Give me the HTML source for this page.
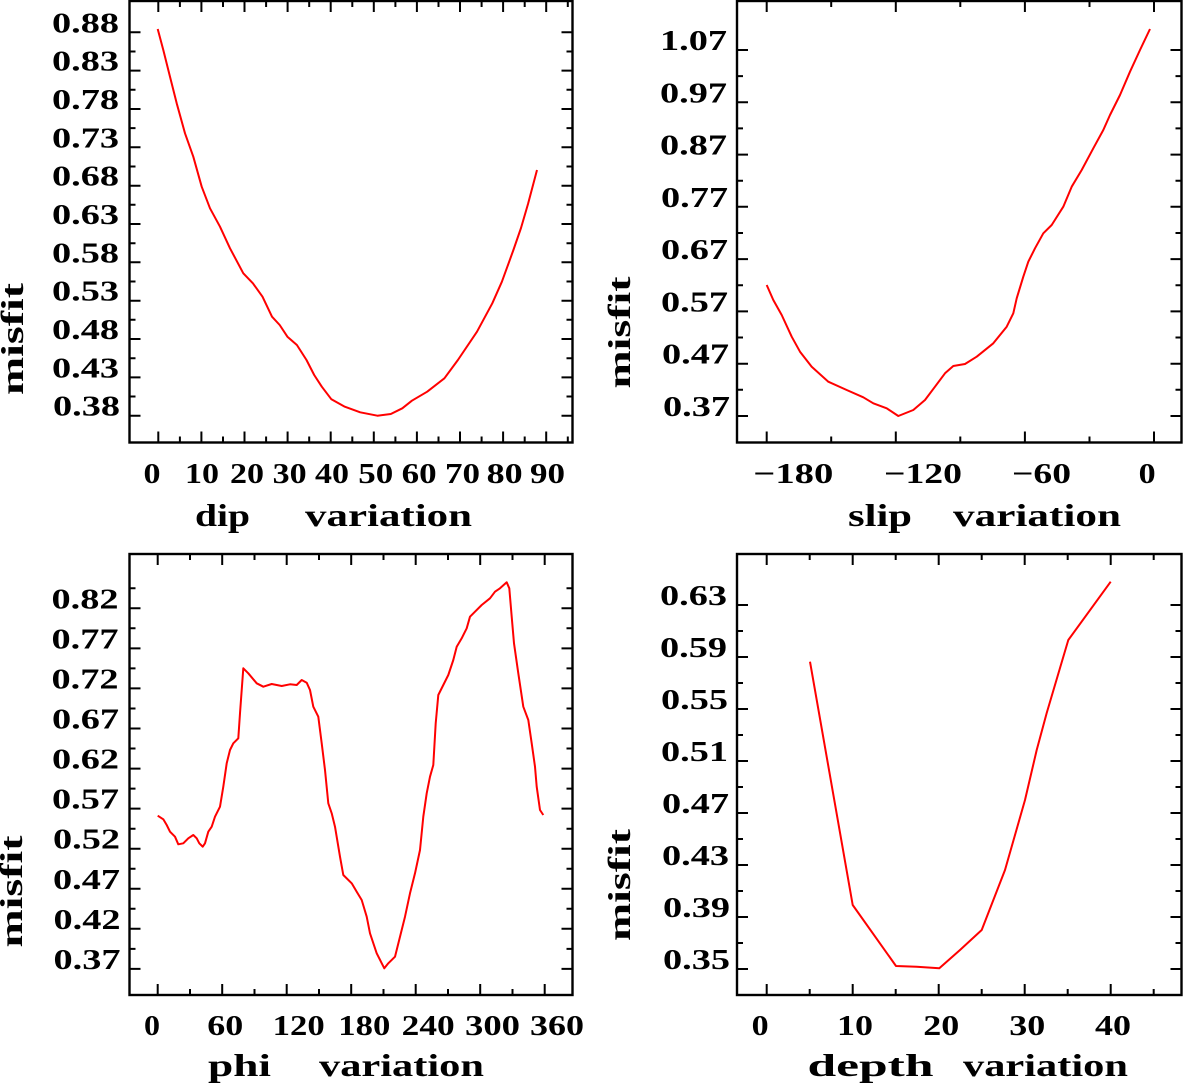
<!DOCTYPE html>
<html>
<head>
<meta charset="utf-8">
<style>
html,body{margin:0;padding:0;background:#fff;}
svg{display:block;}
text{font-family:"Liberation Serif","DejaVu Serif",serif;font-weight:bold;fill:#000;}
.yl{font-size:29px;text-anchor:end;}
.xl{font-size:29px;text-anchor:start;}
.tt{font-size:32px;}
</style>
</head>
<body>
<svg width="1183" height="1086" viewBox="0 0 1183 1086" xmlns="http://www.w3.org/2000/svg">
<rect x="0" y="0" width="1183" height="1086" fill="#fff"/>

<!-- ================= TOP-LEFT: dip ================= -->
<rect x="129.5" y="1" width="443" height="441.5" fill="none" stroke="#000" stroke-width="2.4"/>
<path fill="none" stroke="#000" stroke-width="2" d="
M158.3 442.5v-11 M179.9 442.5v-6 M201.4 442.5v-11 M223 442.5v-6 M244.5 442.5v-11 M266.1 442.5v-6 M287.6 442.5v-11 M309.2 442.5v-6 M330.7 442.5v-11 M352.3 442.5v-6 M373.8 442.5v-11 M395.4 442.5v-6 M416.9 442.5v-11 M438.5 442.5v-6 M460 442.5v-11 M481.6 442.5v-6 M503.1 442.5v-11 M524.7 442.5v-6 M546.2 442.5v-11 M567.8 442.5v-6
M158.3 1v11 M179.9 1v6 M201.4 1v11 M223 1v6 M244.5 1v11 M266.1 1v6 M287.6 1v11 M309.2 1v6 M330.7 1v11 M352.3 1v6 M373.8 1v11 M395.4 1v6 M416.9 1v11 M438.5 1v6 M460 1v11 M481.6 1v6 M503.1 1v11 M524.7 1v6 M546.2 1v11 M567.8 1v6
M129.5 32.3h11 M129.5 51.5h6 M129.5 70.6h11 M129.5 89.8h6 M129.5 109h11 M129.5 128.1h6 M129.5 147.3h11 M129.5 166.5h6 M129.5 185.7h11 M129.5 204.8h6 M129.5 224h11 M129.5 243.2h6 M129.5 262.3h11 M129.5 281.5h6 M129.5 300.7h11 M129.5 319.8h6 M129.5 339h11 M129.5 358.2h6 M129.5 377.4h11 M129.5 396.5h6 M129.5 415.7h11
M572.5 32.3h-11 M572.5 51.5h-6 M572.5 70.6h-11 M572.5 89.8h-6 M572.5 109h-11 M572.5 128.1h-6 M572.5 147.3h-11 M572.5 166.5h-6 M572.5 185.7h-11 M572.5 204.8h-6 M572.5 224h-11 M572.5 243.2h-6 M572.5 262.3h-11 M572.5 281.5h-6 M572.5 300.7h-11 M572.5 319.8h-6 M572.5 339h-11 M572.5 358.2h-6 M572.5 377.4h-11 M572.5 396.5h-6 M572.5 415.7h-11"/>
<polyline fill="none" stroke="#ff0000" stroke-width="2" stroke-linejoin="round" points="157.7,29 163.3,50 170,76.7 176.7,103.3 185,133.3 193.3,156.7 201.7,186.7 210,208.3 220,226.7 230,248.3 243.3,273.3 252.9,283.3 262.5,296.7 272,316.7 279.7,325 287.4,336.7 296.9,345 306.5,360 314.2,375 321.8,386.7 331.4,399.3 344.8,406.7 360.2,412.3 377.4,415.7 390.8,414 402.3,408.3 411.9,400.7 427.2,391.7 444.4,378.3 457.9,360 477,331.7 492.3,303.3 501.9,281.7 513.4,250 521,228 528,204 537,170"/>
<text class="yl" x="119" y="32.3" textLength="67" lengthAdjust="spacingAndGlyphs">0.88</text>
<text class="yl" x="119" y="70.6" textLength="67" lengthAdjust="spacingAndGlyphs">0.83</text>
<text class="yl" x="119" y="109" textLength="67" lengthAdjust="spacingAndGlyphs">0.78</text>
<text class="yl" x="119" y="147.3" textLength="67" lengthAdjust="spacingAndGlyphs">0.73</text>
<text class="yl" x="119" y="185.7" textLength="67" lengthAdjust="spacingAndGlyphs">0.68</text>
<text class="yl" x="119" y="224" textLength="67" lengthAdjust="spacingAndGlyphs">0.63</text>
<text class="yl" x="119" y="262.3" textLength="67" lengthAdjust="spacingAndGlyphs">0.58</text>
<text class="yl" x="119" y="300.7" textLength="67" lengthAdjust="spacingAndGlyphs">0.53</text>
<text class="yl" x="119" y="339" textLength="67" lengthAdjust="spacingAndGlyphs">0.48</text>
<text class="yl" x="119" y="377.4" textLength="67" lengthAdjust="spacingAndGlyphs">0.43</text>
<text class="yl" x="120" y="415.7" textLength="67" lengthAdjust="spacingAndGlyphs">0.38</text>
<text class="xl" x="143.5" y="483" textLength="17" lengthAdjust="spacingAndGlyphs">0</text>
<text class="xl" x="185" y="483" textLength="34" lengthAdjust="spacingAndGlyphs">10</text>
<text class="xl" x="230" y="483" textLength="34" lengthAdjust="spacingAndGlyphs">20</text>
<text class="xl" x="272.7" y="483" textLength="34" lengthAdjust="spacingAndGlyphs">30</text>
<text class="xl" x="315" y="483" textLength="34" lengthAdjust="spacingAndGlyphs">40</text>
<text class="xl" x="358.3" y="483" textLength="35" lengthAdjust="spacingAndGlyphs">50</text>
<text class="xl" x="401.7" y="483" textLength="35" lengthAdjust="spacingAndGlyphs">60</text>
<text class="xl" x="445" y="483" textLength="35" lengthAdjust="spacingAndGlyphs">70</text>
<text class="xl" x="486.7" y="483" textLength="36" lengthAdjust="spacingAndGlyphs">80</text>
<text class="xl" x="530" y="483" textLength="35" lengthAdjust="spacingAndGlyphs">90</text>
<text class="tt" x="195" y="526" textLength="55" lengthAdjust="spacingAndGlyphs">dip</text>
<text class="tt" x="305" y="526" textLength="167" lengthAdjust="spacingAndGlyphs">variation</text>
<text class="tt" transform="translate(23,339) rotate(-90)" text-anchor="middle" textLength="112" lengthAdjust="spacingAndGlyphs">misfit</text>

<!-- ================= TOP-RIGHT: slip ================= -->
<rect x="737" y="1" width="444.5" height="441.5" fill="none" stroke="#000" stroke-width="2.4"/>
<path fill="none" stroke="#000" stroke-width="2" d="
M766.7 442.5v-11 M831.2 442.5v-6 M895.8 442.5v-11 M960.3 442.5v-6 M1024.9 442.5v-11 M1089.5 442.5v-6 M1154 442.5v-11
M766.7 1v11 M831.2 1v6 M895.8 1v11 M960.3 1v6 M1024.9 1v11 M1089.5 1v6 M1154 1v11
M737 50h11 M737 76.1h6 M737 102.3h11 M737 128.4h6 M737 154.6h11 M737 180.7h6 M737 206.8h11 M737 233h6 M737 259.1h11 M737 285.3h6 M737 311.4h11 M737 337.5h6 M737 363.7h11 M737 389.8h6 M737 416h11
M1181.5 50h-11 M1181.5 76.1h-6 M1181.5 102.3h-11 M1181.5 128.4h-6 M1181.5 154.6h-11 M1181.5 180.7h-6 M1181.5 206.8h-11 M1181.5 233h-6 M1181.5 259.1h-11 M1181.5 285.3h-6 M1181.5 311.4h-11 M1181.5 337.5h-6 M1181.5 363.7h-11 M1181.5 389.8h-6 M1181.5 416h-11"/>
<polyline fill="none" stroke="#ff0000" stroke-width="2" stroke-linejoin="round" points="766.7,285 773.3,300 781.7,315 791.7,336.7 800,351.7 811.7,366.7 828.3,381.7 846.7,390 863.3,397.3 873.3,403.3 886.7,408.3 898.3,416 913.3,410 925,400 935,386.7 945,373.3 953.3,366 965,364 976.7,356.7 993.3,343.3 1006.7,326.7 1013.3,313.3 1016.7,298.3 1023.3,276.7 1028.3,261.7 1035,248.3 1043.3,233.3 1051.7,225 1063.3,206.7 1071.7,186.7 1081.7,170 1093.3,148.3 1103.3,130 1110,115 1120,95 1130,71.7 1140,50 1150,29"/>
<text class="yl" x="727" y="50" textLength="67" lengthAdjust="spacingAndGlyphs">1.07</text>
<text class="yl" x="727" y="102.3" textLength="67" lengthAdjust="spacingAndGlyphs">0.97</text>
<text class="yl" x="727" y="154.6" textLength="67" lengthAdjust="spacingAndGlyphs">0.87</text>
<text class="yl" x="728" y="206.8" textLength="67" lengthAdjust="spacingAndGlyphs">0.77</text>
<text class="yl" x="728" y="259.1" textLength="67" lengthAdjust="spacingAndGlyphs">0.67</text>
<text class="yl" x="728" y="311.4" textLength="67" lengthAdjust="spacingAndGlyphs">0.57</text>
<text class="yl" x="729" y="363.7" textLength="67" lengthAdjust="spacingAndGlyphs">0.47</text>
<text class="yl" x="730" y="416" textLength="67" lengthAdjust="spacingAndGlyphs">0.37</text>
<text class="xl" x="753.3" y="483" textLength="80" lengthAdjust="spacingAndGlyphs">−180</text>
<text class="xl" x="884" y="483" textLength="78" lengthAdjust="spacingAndGlyphs">−120</text>
<text class="xl" x="1012" y="483" textLength="59" lengthAdjust="spacingAndGlyphs">−60</text>
<text class="xl" x="1138.6" y="483" textLength="17" lengthAdjust="spacingAndGlyphs">0</text>
<text class="tt" x="848" y="526" textLength="64" lengthAdjust="spacingAndGlyphs">slip</text>
<text class="tt" x="953" y="526" textLength="168" lengthAdjust="spacingAndGlyphs">variation</text>
<text class="tt" transform="translate(630,332.5) rotate(-90)" text-anchor="middle" textLength="112" lengthAdjust="spacingAndGlyphs">misfit</text>

<!-- ================= BOTTOM-LEFT: phi ================= -->
<rect x="129.5" y="554" width="443" height="441" fill="none" stroke="#000" stroke-width="2.4"/>
<path fill="none" stroke="#000" stroke-width="2" d="
M157.7 995v-11 M190 995v-6 M222.2 995v-11 M254.5 995v-6 M286.7 995v-11 M319 995v-6 M351.2 995v-11 M383.5 995v-6 M415.7 995v-11 M448 995v-6 M480.2 995v-11 M512.5 995v-6 M544.7 995v-11
M157.7 554v11 M190 554v6 M222.2 554v11 M254.5 554v6 M286.7 554v11 M319 554v6 M351.2 554v11 M383.5 554v6 M415.7 554v11 M448 554v6 M480.2 554v11 M512.5 554v6 M544.7 554v11
M129.5 588.3h6 M129.5 608.3h11 M129.5 628.3h6 M129.5 648.4h11 M129.5 668.4h6 M129.5 688.4h11 M129.5 708.5h6 M129.5 728.5h11 M129.5 748.5h6 M129.5 768.6h11 M129.5 788.6h6 M129.5 808.6h11 M129.5 828.7h6 M129.5 848.7h11 M129.5 868.7h6 M129.5 888.8h11 M129.5 908.8h6 M129.5 928.8h11 M129.5 948.9h6 M129.5 968.9h11
M572.5 588.3h-6 M572.5 608.3h-11 M572.5 628.3h-6 M572.5 648.4h-11 M572.5 668.4h-6 M572.5 688.4h-11 M572.5 708.5h-6 M572.5 728.5h-11 M572.5 748.5h-6 M572.5 768.6h-11 M572.5 788.6h-6 M572.5 808.6h-11 M572.5 828.7h-6 M572.5 848.7h-11 M572.5 868.7h-6 M572.5 888.8h-11 M572.5 908.8h-6 M572.5 928.8h-11 M572.5 948.9h-6 M572.5 968.9h-11"/>
<polyline fill="none" stroke="#ff0000" stroke-width="2" stroke-linejoin="round" points="157.7,815.7 163.3,819.3 166.7,825 170,831.7 175,836.7 178.3,844.3 183.3,843.3 188.3,838.3 193.3,835 196.7,838.3 199.3,843.3 202.7,846.7 205,843.3 208.3,831.7 211.7,826.7 215,816.7 220,806.7 223.3,786.7 226.7,763.3 230,750 233.3,743.3 238.3,738.3 240,713.3 243.3,668.3 248.3,673.3 256.7,683.3 263.3,686.7 271.7,684 281.7,686 290,684.3 296.7,685 301.7,680 306.7,682.7 310,690 313.3,706.7 318.3,716.7 321.7,743.3 325,770 328.3,803.3 331.7,813.3 335,826.7 340,856.7 343.3,875 351.7,883.3 356.7,891.7 361.7,900 366.7,916.7 370,933.3 376.7,953.3 384.3,968.3 388.3,963.3 395,956.7 400,936.7 405,916.7 410,893.3 415,873.3 420,850 423.3,816.7 426.7,793.3 430,776.7 433.3,765 435.7,723.3 438.3,695 443.3,685 448.3,675 453.3,660 456.7,646.7 461.7,638.3 466.7,628.3 470,616.7 475,611.7 481.7,605 490,598.3 495,591.7 500,588.3 506.7,582.3 509.3,588.3 511.7,616.7 514,643.3 518.3,673.3 523.3,706.7 528.3,720 531.7,743.3 535,766.7 536.7,786.7 540,810 543.3,815"/>
<text class="yl" x="118.5" y="608.3" textLength="67" lengthAdjust="spacingAndGlyphs">0.82</text>
<text class="yl" x="118.5" y="648.4" textLength="67" lengthAdjust="spacingAndGlyphs">0.77</text>
<text class="yl" x="118.5" y="688.4" textLength="67" lengthAdjust="spacingAndGlyphs">0.72</text>
<text class="yl" x="119" y="728.5" textLength="67" lengthAdjust="spacingAndGlyphs">0.67</text>
<text class="yl" x="119" y="768.6" textLength="67" lengthAdjust="spacingAndGlyphs">0.62</text>
<text class="yl" x="119" y="808.6" textLength="67" lengthAdjust="spacingAndGlyphs">0.57</text>
<text class="yl" x="120" y="848.7" textLength="67" lengthAdjust="spacingAndGlyphs">0.52</text>
<text class="yl" x="120" y="888.8" textLength="67" lengthAdjust="spacingAndGlyphs">0.47</text>
<text class="yl" x="120.5" y="928.8" textLength="67" lengthAdjust="spacingAndGlyphs">0.42</text>
<text class="yl" x="120.5" y="968.9" textLength="67" lengthAdjust="spacingAndGlyphs">0.37</text>
<text class="xl" x="144" y="1035" textLength="16" lengthAdjust="spacingAndGlyphs">0</text>
<text class="xl" x="207.3" y="1035" textLength="36" lengthAdjust="spacingAndGlyphs">60</text>
<text class="xl" x="272.7" y="1035" textLength="52" lengthAdjust="spacingAndGlyphs">120</text>
<text class="xl" x="338.3" y="1035" textLength="52" lengthAdjust="spacingAndGlyphs">180</text>
<text class="xl" x="401.7" y="1035" textLength="53" lengthAdjust="spacingAndGlyphs">240</text>
<text class="xl" x="465" y="1035" textLength="55" lengthAdjust="spacingAndGlyphs">300</text>
<text class="xl" x="530" y="1035" textLength="54" lengthAdjust="spacingAndGlyphs">360</text>
<text class="tt" x="208" y="1076" textLength="63" lengthAdjust="spacingAndGlyphs">phi</text>
<text class="tt" x="319" y="1076" textLength="165" lengthAdjust="spacingAndGlyphs">variation</text>
<text class="tt" transform="translate(22,891.5) rotate(-90)" text-anchor="middle" textLength="112" lengthAdjust="spacingAndGlyphs">misfit</text>

<!-- ================= BOTTOM-RIGHT: depth ================= -->
<rect x="737" y="554" width="444.5" height="441" fill="none" stroke="#000" stroke-width="2.4"/>
<path fill="none" stroke="#000" stroke-width="2" d="
M766.7 995v-11 M809.7 995v-6 M852.7 995v-11 M895.7 995v-6 M938.7 995v-11 M981.7 995v-6 M1024.7 995v-11 M1067.7 995v-6 M1110.7 995v-11 M1153.7 995v-6
M766.7 554v11 M809.7 554v6 M852.7 554v11 M895.7 554v6 M938.7 554v11 M981.7 554v6 M1024.7 554v11 M1067.7 554v6 M1110.7 554v11 M1153.7 554v6
M737 605h11 M737 631h6 M737 657h11 M737 683h6 M737 709h11 M737 735h6 M737 761h11 M737 787h6 M737 813h11 M737 839h6 M737 865h11 M737 891h6 M737 917h11 M737 943h6 M737 969h11
M1181.5 605h-11 M1181.5 631h-6 M1181.5 657h-11 M1181.5 683h-6 M1181.5 709h-11 M1181.5 735h-6 M1181.5 761h-11 M1181.5 787h-6 M1181.5 813h-11 M1181.5 839h-6 M1181.5 865h-11 M1181.5 891h-6 M1181.5 917h-11 M1181.5 943h-6 M1181.5 969h-11"/>
<polyline fill="none" stroke="#ff0000" stroke-width="2" stroke-linejoin="round" points="810,661.7 852.7,905 896,966 916.7,966.7 939.3,968.3 960,950 981.7,930 1005,870 1025,800 1036.7,750 1046.7,713 1060,668 1068.3,640 1110.7,581.7"/>
<text class="yl" x="727" y="605" textLength="67" lengthAdjust="spacingAndGlyphs">0.63</text>
<text class="yl" x="727" y="657" textLength="67" lengthAdjust="spacingAndGlyphs">0.59</text>
<text class="yl" x="728" y="709" textLength="67" lengthAdjust="spacingAndGlyphs">0.55</text>
<text class="yl" x="728" y="761" textLength="67" lengthAdjust="spacingAndGlyphs">0.51</text>
<text class="yl" x="729" y="813" textLength="67" lengthAdjust="spacingAndGlyphs">0.47</text>
<text class="yl" x="729" y="865" textLength="67" lengthAdjust="spacingAndGlyphs">0.43</text>
<text class="yl" x="730" y="917" textLength="67" lengthAdjust="spacingAndGlyphs">0.39</text>
<text class="yl" x="730" y="969" textLength="67" lengthAdjust="spacingAndGlyphs">0.35</text>
<text class="xl" x="751.7" y="1035" textLength="17" lengthAdjust="spacingAndGlyphs">0</text>
<text class="xl" x="837" y="1035" textLength="36" lengthAdjust="spacingAndGlyphs">10</text>
<text class="xl" x="923.3" y="1035" textLength="36" lengthAdjust="spacingAndGlyphs">20</text>
<text class="xl" x="1009.3" y="1035" textLength="36" lengthAdjust="spacingAndGlyphs">30</text>
<text class="xl" x="1095" y="1035" textLength="36" lengthAdjust="spacingAndGlyphs">40</text>
<text class="tt" x="807.5" y="1076" textLength="126" lengthAdjust="spacingAndGlyphs">depth</text>
<text class="tt" x="963" y="1076" textLength="165" lengthAdjust="spacingAndGlyphs">variation</text>
<text class="tt" transform="translate(630,885) rotate(-90)" text-anchor="middle" textLength="112" lengthAdjust="spacingAndGlyphs">misfit</text>
</svg>
</body>
</html>
